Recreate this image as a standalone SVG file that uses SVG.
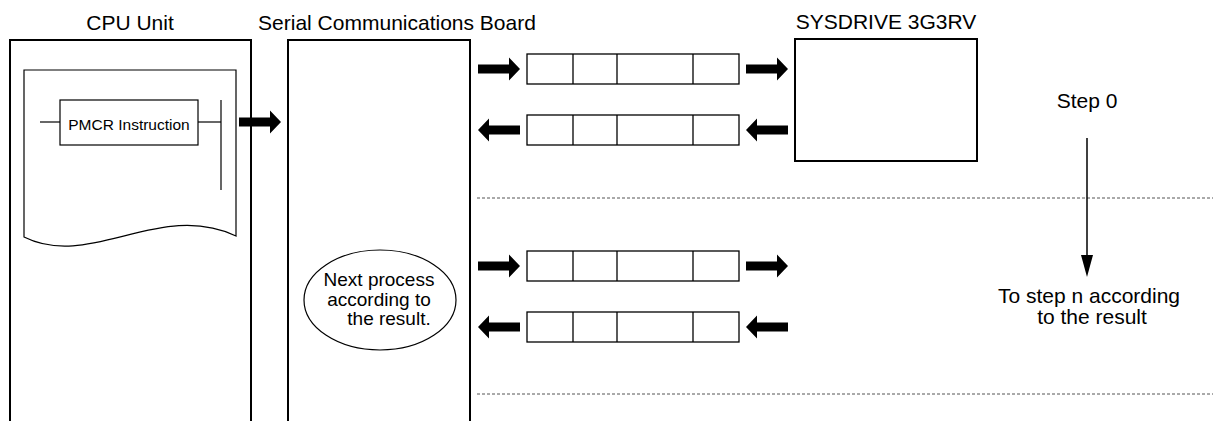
<svg xmlns="http://www.w3.org/2000/svg" width="1213" height="421" viewBox="0 0 1213 421">
<style>
text{font-family:"Liberation Sans",Arial,sans-serif;fill:#000}
.t{font-size:21px}
.s{font-size:19px}
.box{fill:#fff;stroke:#000;stroke-width:2}
.thin{fill:none;stroke:#000;stroke-width:1.2}
.frame{fill:#fff;stroke:#000;stroke-width:1.3}
.div{stroke:#000;stroke-width:1.3}
.dot{stroke:#555;stroke-width:1;stroke-dasharray:3 2;fill:none}
.fat{fill:#000}
</style>
<defs>
<path id="fatR" d="M0,-4.5 H31 V-11.5 L42,0 L31,11.5 V4.5 H0 Z"/>
<path id="fatL" d="M42,-4.5 H11 V-11.5 L0,0 L11,11.5 V4.5 H42 Z"/>
<g id="msg">
<rect class="frame" x="0" y="0" width="212" height="30"/>
<line class="div" x1="46" y1="0" x2="46" y2="30"/>
<line class="div" x1="90" y1="0" x2="90" y2="30"/>
<line class="div" x1="166" y1="0" x2="166" y2="30"/>
</g>
</defs>
<rect width="1213" height="421" fill="#fff"/>

<g id="cpu-unit">
<text class="t" x="130" y="30" text-anchor="middle">CPU Unit</text>
<path class="box" d="M10,423 V40 H251 V423" fill="none"/>
<path class="thin" d="M24,237 V70 H236 V236 C160,200 90,270 24,237 Z" fill="#fff"/>
<line class="thin" x1="40" y1="122" x2="60" y2="122"/>
<rect class="thin" x="60" y="100" width="138" height="45"/>
<line class="thin" x1="198" y1="122" x2="221" y2="122"/>
<line class="thin" x1="221" y1="100" x2="221" y2="190"/>
<text x="129" y="130" font-size="15.5" text-anchor="middle">PMCR Instruction</text>
</g>

<g id="serial-board">
<text class="t" x="397" y="30" text-anchor="middle">Serial Communications Board</text>
<path class="box" d="M288,423 V40 H470 V423"/>
</g>

<g id="next-process">
<ellipse class="thin" cx="380" cy="300" rx="76" ry="50" fill="#fff"/>
<text class="s" x="379" y="286" text-anchor="middle">Next process</text>
<text class="s" x="379" y="305.5" text-anchor="middle">according to</text>
<text class="s" x="389" y="325" text-anchor="middle">the result.</text>
</g>

<g id="sysdrive">
<text class="t" x="886" y="29" text-anchor="middle">SYSDRIVE 3G3RV</text>
<rect class="box" x="795" y="39" width="182" height="122"/>
</g>

<g id="frames">
<use href="#msg" x="527" y="54"/>
<use href="#msg" x="527" y="115"/>
<use href="#msg" x="527" y="251"/>
<use href="#msg" x="527" y="312"/>
</g>

<g id="step-labels">
<text class="t" x="1087" y="108" text-anchor="middle">Step 0</text>
<text class="t" x="1089" y="303" text-anchor="middle">To step n according</text>
<text class="t" x="1092" y="324" text-anchor="middle">to the result</text>
</g>

<g id="dividers">
<line class="dot" x1="477" y1="198" x2="1213" y2="198"/>
<line class="dot" x1="477" y1="394" x2="1213" y2="394"/>
</g>

<g id="connectors">
<use href="#fatR" class="fat" x="239" y="122"/>
<use href="#fatR" class="fat" x="478" y="69"/>
<use href="#fatR" class="fat" x="746" y="69"/>
<use href="#fatL" class="fat" x="478" y="130"/>
<use href="#fatL" class="fat" x="746" y="130"/>
<use href="#fatR" class="fat" x="478" y="266"/>
<use href="#fatR" class="fat" x="746" y="266"/>
<use href="#fatL" class="fat" x="478" y="327"/>
<use href="#fatL" class="fat" x="746" y="327"/>
<line x1="1087" y1="138" x2="1087" y2="258" stroke="#000" stroke-width="1.5"/>
<path d="M1081,255 L1093,255 L1087,277 Z" fill="#000"/>
</g>
</svg>
